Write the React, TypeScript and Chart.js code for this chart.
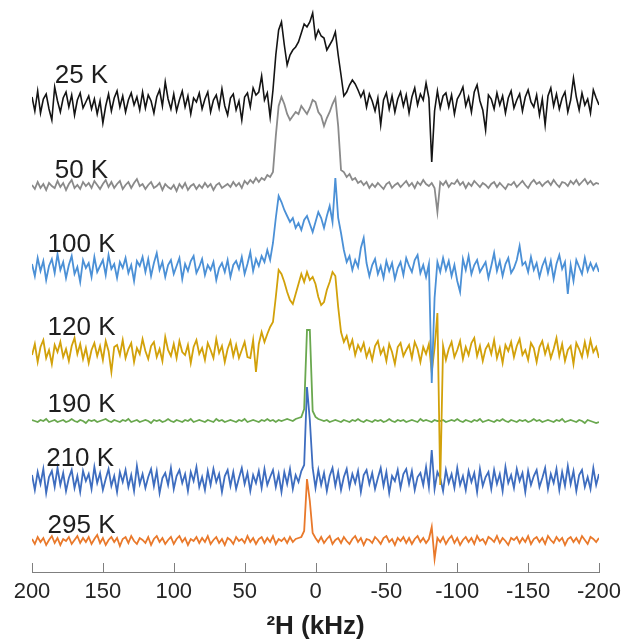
import React, { useEffect, useRef } from "react";
import { Chart, registerables } from "chart.js";

Chart.register(...registerables);

// Frequency axis of the spectra (kHz): first sample and sampling step
const FREQ_START = 200;
const FREQ_STEP = -2;

const TEMPS = ["25 K", "50 K", "100 K", "120 K", "190 K", "210 K", "295 K"];
const COLORS = ["#141414", "#8a8a8a", "#4b90d6", "#d2a10a", "#6aa84f", "#3e6dbf", "#e9792b"];
// vertical stacking offset of each spectrum (arbitrary intensity units)
const OFFSETS = [469, 386, 304, 220, 151, 92, 31];

const X_TICKS = [200, 150, 100, 50, 0, -50, -100, -150, -200];

// Intensities (relative to each trace's baseline), one value per sample
const S25K = [
  6, -8, 12, -10, 4, 9, -6, -17, 16, 2,
  -9, 5, 11, -4, 8, -12, 3, 10, -5, 1,
  7, -6, 4, -11, 2, -20, -3, 9, -8, 5,
  12, -4, 7, -9, 3, 10, -2, 6, -7, 11,
  -5, 8, 2, -10, 6, 13, -3, 21, 4, -6,
  9, -8, 3, 12, -4, 7, -11, 5, 1, 10,
  -6, 4, 11, -9, 3, 8, -5, 14, -3, -12,
  5, 9, -7, 2, -17, 6, 10, -4, 15, 8,
  11, 27, 3, 10, -14, 13, 48, 73, 81, 58,
  38, 48, 53, 56, 61, 70, 79, 76, 81, 90,
  65, 73, 67, 65, 53, 58, 63, 71, 48, 28,
  7, 11, 18, 23, 19, 13, 6, 12, -4, 9,
  2, -8, 5, -22, 3, 10, -6, 7, -9, 4,
  11, -3, 8, -10, 6, 15, -2, 9, 3, 20,
  5, -59, -8, 12, -5, 7, 10, -4, 8, -11,
  4, 9, 16, -3, 6, -9, 11, 18, 2, -7,
  -27, 8, 4, -6, 10, -2, 7, -10, 5, 12,
  -5, 3, 9, -8, 6, 13, 1, -4, 8, -12,
  4, -22, 7, 15, -3, 9, -6, 5, 11, -9,
  3, 25, 6, -7, 10, -2, 4, -10, 13, 5,
  -2,
];

const S50K = [
  1, -3, 4, -2, 2, -4, 3, 0, -2, 5,
  -1, 3, -4, 2, 6, -2, 1, -3, 4, 0,
  3, -2, 5, 1, -3, 2, 6, -1, 4, -2,
  2, 5, -3, 1, 4, -2, 3, 7, 0, 2,
  -3, 1, 4, -2, 0, 3, -4, 2, -1, -3,
  1, -5, 2, -2, 3, -4, 0, 2, -3, 1,
  -2, 3, -1, 2, -4, 1, 3, -2, 0, 2,
  -1, 4, 0, 3, -2, 5, 2, 6, 3, 8,
  4, 8, 6, 11, 9, 14, 50, 80, 89, 82,
  72, 66, 70, 74, 72, 80, 76, 72, 78, 86,
  84, 74, 70, 60, 68, 74, 82, 88, 60, 16,
  14, 9, 12, 6, 8, 3, 5, 1, 4, -2,
  2, -1, 3, 0, -3, 2, 4, -2, 1, 3,
  -1, 2, 5, 0, 3, -2, 4, 1, 6, 2,
  0, 3, -2, -26, 4, 1, 5, -1, 3, 2,
  6, 1, 4, -2, 3, 0, 5, 2, -1, 3,
  1, -2, 2, 4, -1, 3, 0, -3, 2, 1,
  4, -1, 2, 5, 1, -2, 3, 6, 2, 4,
  0, 3, 5, 1, 6, 2, -1, 4, 3, 0,
  5, 2, 6, 1, 4, 7, 2, 5, 1, 3,
  2,
];

const S100K = [
  4, -8, 10, -3, 7, -12, 2, 9, -5, 14,
  -2, 6, -10, 3, 12, -6, 1, -14, 8, 0,
  5, -9, 11, -4, 2, 8, -7, 13, -1, 4,
  -10, 6, 0, 10, -5, 3, -13, 7, 2, 11,
  -4, 9, -8, 5, 15, -2, 6, -9, 3, 8,
  -6, 2, 10, -11, 4, -3, 7, 12, -5, 1,
  9, -7, 3, -2, 6, -12, 0, 5, -4, 8,
  -9, 3, 7, -1, 11, -6, 4, 16, -3, 9,
  2, 12, 6, 18, 8, 25, 50, 72, 66, 58,
  52, 46, 50, 40, 45, 38, 48, 52, 44, 36,
  46, 56, 50, 40, 52, 62, 46, 90, 50, 35,
  18, 6, 12, -2, 8, 1, 20, 30, 5, -8,
  3, 9, -6, 2, -10, 7, -3, 5, -11, 0,
  6, -7, 10, 2, -4, 8, 13, -5, 3, -9,
  4, -115, -30, 6, -4, 10, -2, 7, -8, 3,
  -13, -24, 9, -2, 12, -6, 3, 8, -4, 1,
  6, -10, 2, 15, -3, 7, -8, 4, 10, -5,
  0, 8, 22, 3, 6, -4, 11, -2, 5, -9,
  2, 9, -5, 7, -11, 4, 13, -1, 6, -26,
  3, -13, 8, 1, -6, 10, -3, 5, -2, 4,
  -4,
];

const S120K = [
  -3, 8, -10, 5, 12, -6, 2, -12, 7, 0,
  10, -5, 3, -9, 6, 14, -2, 8, -7, 4,
  -11, 2, 9, -4, 6, -8, 11, 1, -20, 5,
  7, -3, 12, -6, 3, 9, -10, 4, -2, 13,
  1, -7, 6, 10, -5, 3, -9, 15, 2, -4,
  8, -6, 11, 0, -3, 7, -11, 5, 12, -2,
  4, -8, 9, 2, -6, 13, -1, 6, -10, 3,
  11, -4, 7, -6, 2, 10, -5, -6, 12, -20,
  8, 20, 10, 18, 25, 30, 55, 82, 78, 70,
  60, 52, 48, 58, 68, 78, 70, 80, 72, 75,
  68, 55, 47, 50, 62, 70, 80, 76, 45, 20,
  10, 16, 4, 12, -3, 7, 1, 9, -5, 3,
  -8, 6, 11, -2, 4, -9, 8, 0, -12, 5,
  9, -4, 2, 7, -6, 10, 3, -10, 5, -2,
  8, -20, 4, 39, -133, 6, -8, 3, 10, -5,
  2, 11, -7, 5, -3, 9, 14, -4, 6, -9,
  3, 8, -2, 12, -6, 4, -11, 7, 1, 10,
  -5, 6, 13, -3, 2, -8, 9, 4, -10, 5,
  11, -2, 7, -6, 3, 14, -4, 8, -9, 2,
  6, -12, 9, 3, -5, 10, -3, 12, 0, 5,
  -6,
];

const S190K = [
  1, 0, -1, 1, 0, 2, -1, 0, 1, -1,
  0, 1, -1, 0, 2, 0, -1, 1, 0, -2,
  1, 0, 1, -1, 0, 1, 2, 0, -1, 1,
  0, -1, 1, 0, 2, -1, 0, 1, -1, 0,
  1, 0, -2, 1, 0, 1, -1, 0, 2, 0,
  -1, 1, 0, -1, 1, 0, 2, -1, 0, 1,
  0, -1, 1, 0, -1, 2, 0, 1, -1, 0,
  1, 0, -1, 1, 0, 2, -1, 0, 1, 0,
  -1, 1, 0, 2, 0, 1, -1, 1, 0, 1,
  2, 1, 0, 2, 3, 4, 12, 91, 91, 10,
  4, 2, 1, 0, 1, -1, 0, 1, 0, -1,
  1, 0, -1, 1, 0, 2, 0, -1, 1, 0,
  -1, 1, 0, 1, -1, 0, 2, 0, -1, 1,
  0, 1, -1, 0, 1, 0, -1, 2, 0, 1,
  0, -1, 1, 0, 0, 1, -1, 0, 1, 0,
  2, 0, -1, 1, 0, -1, 1, 0, 2, -1,
  0, 1, 0, -1, 1, 0, 2, 0, -1, 1,
  0, -1, 1, 0, 1, -1, 0, 2, 0, 1,
  -1, 0, 1, 0, -1, 1, 0, 2, -1, 0,
  1, 0, -1, 1, 0, -2, 1, 0, -1, -2,
  -1,
];

const S210K = [
  5, -10, 8, -4, 11, -13, 3, 9, -7, 12,
  -5, 7, -11, 2, 10, -8, 4, -12, 9, -1,
  6, -9, 13, -3, 7, -10, 1, 11, -6, 4,
  -12, 8, -2, 10, -7, 5, -11, 14, -4, 6,
  -8, 3, 11, -6, 9, -13, 2, 7, -5, 12,
  -9, 4, 10, -3, 6, -11, 8, -1, 13, -7,
  3, -10, 9, -5, 11, -2, 6, -12, 4, 10,
  -6, 8, -9, 2, 12, -4, 7, -11, 5, -3,
  9, -8, 11, -5, 3, 10, -7, 6, -12, 8,
  -4, 11, -9, 5, -2, 9, 15, 93, 60, 12,
  -8, 10, -5, 7, -11, 4, 12, -6, 8, -10,
  3, 11, -7, 6, -3, 9, -12, 5, 10, -4,
  7, -9, 2, 12, -6, 8, -13, 4, -1, 10,
  -8, 6, 11, -4, 9, -10, 3, 7, -5, 13,
  -7, 30, -9, 8, 2, -11, 10, -3, 6, -8,
  12, -5, 4, -10, 9, -2, 7, -12, 11, -6,
  3, 8, -9, 10, -4, 6, -11, 13, -3, 5,
  -8, 11, -1, 7, -12, 9, -5, 4, 10, -7,
  2, 12, -9, 6, -3, 11, -10, 8, -6, 14,
  -4, 9, -11, 5, 10, -7, 3, -9, 12, -5,
  6,
];

const S295K = [
  2, -3, 4, -1, 3, -4, 1, 5, -2, 3,
  -4, 2, 0, 4, -3, 1, 5, -2, 3, -1,
  4, -3, 2, 6, -2, 3, -4, 1, 4, -1,
  3, -5, 2, 4, -2, 5, 0, -3, 3, 1,
  -2, 4, -4, 2, 5, -1, 3, -3, 1, 4,
  -3, 2, 5, -1, 3, -4, 2, 0, 4, -2,
  3, -1, 5, -3, 1, 4, -2, 2, -4, 3,
  1, -3, 4, 0, 2, -2, 5, -1, 3, -3,
  2, 4, -2, 3, -1, 5, -3, 2, 0, 3,
  -2, 4, -1, 2, 3, 4, 10, 62, 40, 8,
  3, -1, 4, -2, 2, 5, -3, 1, 3, -2,
  4, 0, -3, 2, 5, -1, 3, -4, 2, 1,
  -2, 4, 1, -3, 3, 5, -1, 2, -4, 3,
  0, 4, -2, 3, -3, 2, 5, -1, 3, -2,
  2, 14, -18, 3, -1, 4, -3, 2, 5, -2,
  3, -4, 1, 4, -1, 3, -3, 5, 0, 2,
  -3, 4, 2, -1, 5, -2, 3, 0, -4, 3,
  1, 4, -2, 3, -1, 5, -3, 2, 4, -1,
  3, -3, 5, 1, -2, 4, 0, 3, -4, 2,
  4, -1, 3, -2, 5, 1, -3, 4, 2, -1,
  3,
];

const SERIES = [S25K, S50K, S100K, S120K, S190K, S210K, S295K];

// where the temperature labels sit (kHz, intensity units)
const LABEL_X = [184, 184, 189, 189, 189, 190, 189];
const LABEL_Y = [496, 401, 327, 244, 167, 113, 46];

const FONT = "'Liberation Sans', Arial, Helvetica, sans-serif";

const overlayPlugin = {
  id: "overlay",
  afterDatasetsDraw(chart: any) {
    const { ctx, scales, chartArea } = chart;
    const x = scales.x;
    const y = scales.y;
    ctx.save();
    // inward tick marks
    ctx.strokeStyle = "#7f7f7f";
    ctx.lineWidth = 1;
    X_TICKS.forEach((t) => {
      const px = Math.round(x.getPixelForValue(t)) + 0.5;
      ctx.beginPath();
      ctx.moveTo(px, chartArea.bottom);
      ctx.lineTo(px, chartArea.bottom - 9);
      ctx.stroke();
    });
    // temperature labels
    ctx.fillStyle = "#1e1e1e";
    ctx.font = `26px ${FONT}`;
    ctx.textAlign = "left";
    ctx.textBaseline = "middle";
    TEMPS.forEach((t, i) => {
      ctx.fillText(t, x.getPixelForValue(LABEL_X[i]), y.getPixelForValue(LABEL_Y[i]));
    });
    ctx.restore();
  },
};

export default function App() {
  const canvasRef = useRef<HTMLCanvasElement | null>(null);

  useEffect(() => {
    const canvas = canvasRef.current;
    if (!canvas) return;
    const datasets = SERIES.map((s, i) => ({
      label: TEMPS[i],
      data: s.map((v, k) => ({ x: FREQ_START + FREQ_STEP * k, y: OFFSETS[i] + v })),
      borderColor: COLORS[i],
      backgroundColor: COLORS[i],
      borderWidth: i === 0 ? 1.6 : 1.8,
      pointRadius: 0,
      tension: 0,
      fill: false,
    }));
    const chart = new Chart(canvas, {
      type: "line",
      data: { datasets },
      options: {
        animation: false,
        responsive: true,
        maintainAspectRatio: false,
        layout: { padding: { left: 32, right: 24, top: 0, bottom: 0 } },
        plugins: { legend: { display: false }, tooltip: { enabled: false } },
        scales: {
          x: {
            type: "linear",
            reverse: true,
            min: -200,
            max: 200,
            afterBuildTicks: (scale: any) => {
              scale.ticks = X_TICKS.map((v) => ({ value: v }));
            },
            afterFit: (scale: any) => {
              scale.height = 68;
              scale.paddingLeft = 0;
              scale.paddingRight = 0;
            },
            grid: { display: true, drawOnChartArea: false, drawTicks: false },
            border: { display: true, color: "#7f7f7f", width: 1 },
            ticks: {
              padding: 7,
              color: "#262626",
              font: { family: FONT, size: 22 },
              maxRotation: 0,
              callback: (v: any) => String(v),
            },
            title: {
              display: true,
              text: "²H (kHz)",
              color: "#1e1e1e",
              font: { family: FONT, size: 26, weight: "bold", lineHeight: 1 },
              padding: { top: 0, bottom: 0 },
            },
          },
          y: {
            type: "linear",
            display: false,
            min: 0,
            max: 572,
          },
        },
      },
      plugins: [overlayPlugin],
    });
    return () => chart.destroy();
  }, []);

  return (
    <div style={{ position: "fixed", left: 0, top: 0, width: 623, height: 640, background: "#fff" }}>
      <canvas ref={canvasRef} />
    </div>
  );
}
